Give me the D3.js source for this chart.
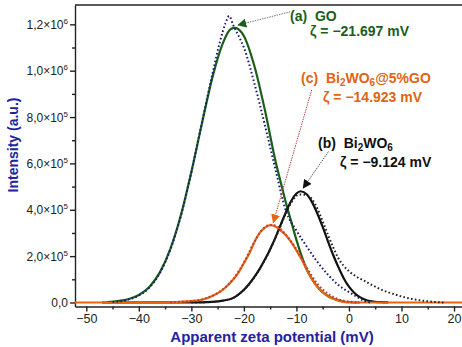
<!DOCTYPE html>
<html>
<head>
<meta charset="utf-8">
<script src="https://cdn.jsdelivr.net/npm/d3@7"></script>
<style>
  body { margin: 0; background: #fff; }
  text { font-family: Arial, "Liberation Sans", sans-serif; white-space: pre; }
</style>
</head>
<body>
<div id="zetaViz"></div>
<script>
// Curves: [zeta potential (mV), intensity (a.u.)]
var goFit = [[-46, 2000], [-44, 6000], [-42, 14000], [-40, 32000], [-38, 67000], [-36, 130000],
  [-34, 231000], [-32, 376000], [-30, 563000], [-28, 771000], [-26, 970000], [-24, 1119000],
  [-22.5, 1180000], [-21.7, 1185000], [-20, 1150000], [-18, 1020000], [-16, 830000],
  [-14, 612000], [-13, 520000], [-12, 430000], [-11, 350000], [-10, 270000], [-9, 200000],
  [-8, 140000], [-7, 100000], [-6, 68000], [-5, 44000], [-4, 28000], [-3, 17000],
  [-2, 9000], [-1, 4000], [0, 1000], [2, 0]];
var goRaw = [[-45, 2000], [-42, 13000], [-40, 30000], [-38, 64000], [-36, 127000], [-34, 228000],
  [-32, 373000], [-30, 562000], [-28, 775000], [-26, 985000], [-24.5, 1130000], [-23.5, 1205000],
  [-22.8, 1236000], [-22, 1195000], [-21, 1150000], [-20, 1100000], [-18, 945000], [-16, 765000],
  [-14, 575000], [-12, 395000], [-10, 310000], [-8, 240000], [-6, 175000], [-4, 120000],
  [-2, 75000], [0, 45000], [1.5, 25000], [3, 6000], [4, 0]];
var bwFit = [[-47, 0], [-30, 500], [-26, 3000], [-24, 8000], [-22, 20000], [-21, 35000],
  [-20, 55000], [-19, 80000], [-18, 110000], [-17, 145000], [-16, 185000], [-15, 230000],
  [-14, 280000], [-13, 335000], [-12, 390000], [-11, 438000], [-10, 470000], [-9.2, 480000],
  [-8, 466000], [-7, 432000], [-6, 383000], [-5, 326000], [-4, 264000], [-3, 205000],
  [-2, 152000], [-1, 105000], [0, 68000], [1, 42000], [2, 24000], [3, 13000], [4, 6000],
  [5, 3000], [6, 1500], [7.5, 500]];
var bwRaw = [[-30, 0], [-26, 3000], [-24, 8000], [-22, 20000], [-20, 54000], [-18, 108000],
  [-16, 184000], [-14, 278000], [-13, 332000], [-11, 430000], [-9.5, 466000], [-8.5, 465000],
  [-7, 445000], [-6, 405000], [-5, 350000], [-4, 292000], [-3, 238000], [-2, 190000],
  [-1, 158000], [0, 135000], [1, 118000], [2, 104000], [3, 93000], [4, 80000], [5, 68000],
  [6, 57000], [8, 40000], [10, 26000], [12, 15000], [14, 8000], [16, 3000], [18, 0]];
var bgFit = [[-52.2, 0], [-36, 0], [-32, 3000], [-30, 6000], [-28, 12000], [-26, 28000],
  [-24, 55000], [-22, 100000], [-21, 130000], [-20, 170000], [-19, 210000], [-18, 260000],
  [-17, 300000], [-16, 323000], [-15, 334000], [-14, 328000], [-13, 310000], [-12, 290000],
  [-11, 260000], [-10, 225000], [-9, 185000], [-8, 140000], [-7, 100000], [-6, 68000],
  [-5, 44000], [-4, 27000], [-3, 16000], [-2, 8000], [-1, 3000], [0, 1000], [2, 0],
  [21.9, 0]];
var bgRaw = [[-34, 0], [-32, 3000], [-30, 6000], [-28, 13000], [-26, 29000], [-24, 57000],
  [-22, 102000], [-20, 172000], [-18, 262000], [-16, 325000], [-15, 335000], [-14, 332000],
  [-12, 292000], [-10, 230000], [-8, 150000], [-6, 80000], [-4, 38000], [-2, 14000],
  [0, 4000], [2, 0]];

// Ticks
var xTicks = [-50, -40, -30, -20, -10, 0, 10, 20];
var xMinor = [-45, -35, -25, -15, -5, 5, 15];
var yTicks = [0, 200000, 400000, 600000, 800000, 1000000, 1200000];
var yMinor = [100000, 300000, 500000, 700000, 900000, 1100000];
var yTickMantissa = ["0,0", "2,0", "4,0", "6,0", "8,0", "1,0", "1,2"];
var yTickExp = ["", "5", "5", "5", "5", "6", "6"];

var margin = {top: 5, right: 0, bottom: 40, left: 75};
var width = 389;
var height = 301.5;

var svg = d3.select("#zetaViz")
  .append("svg")
    .attr("width", 462)
    .attr("height", 347)
  .append("g")
    .attr("transform", "translate(" + margin.left + "," + margin.top + ")");

var x = d3.scaleLinear().domain([-52.15, 21.9]).range([0, width]);
var y = d3.scaleLinear().domain([-17300, 1283400]).range([height, 0]);

// arrowheads
var defs = svg.append("defs");
[["arrGreen", "#1b5e1b"], ["arrOrange", "#e8650f"], ["arrBlack", "#111"]].forEach(function(m) {
  defs.append("marker")
      .attr("id", m[0])
      .attr("viewBox", "0 0 10 10")
      .attr("refX", 9).attr("refY", 5)
      .attr("markerWidth", 9).attr("markerHeight", 9)
      .attr("markerUnits", "userSpaceOnUse")
      .attr("orient", "auto")
    .append("path")
      .attr("d", "M0,0 L10,5 L0,10 Z")
      .attr("fill", m[1]);
});

// X axis
var xAxis = svg.append("g")
  .attr("transform", "translate(0," + height + ")")
  .call(d3.axisBottom(x).tickValues(xTicks).tickSize(5).tickSizeOuter(0).tickPadding(3)
    .tickFormat(function(d) { return d < 0 ? "\u2212" + Math.abs(d) : d; }));
svg.append("g")
  .attr("transform", "translate(0," + height + ")")
  .call(d3.axisBottom(x).tickValues(xMinor).tickSize(3).tickFormat(""))
  .select(".domain").remove();

// Y axis
var yAxis = svg.append("g")
  .call(d3.axisLeft(y).tickValues(yTicks).tickSize(5).tickSizeOuter(0).tickFormat(""));
svg.append("g")
  .call(d3.axisLeft(y).tickValues(yMinor).tickSize(3).tickFormat(""))
  .select(".domain").remove();

yAxis.selectAll(".tick").each(function(d, i) {
  var t = d3.select(this).append("text")
    .attr("x", -7)
    .attr("dy", "0.35em")
    .attr("fill", "#222")
    .attr("font-size", 12)
    .attr("text-anchor", "end");
  t.append("tspan").text(yTickMantissa[i] + (yTickExp[i] ? "\u00d710" : ""));
  if (yTickExp[i]) {
    t.append("tspan").attr("dy", -5).attr("font-size", 8).text(yTickExp[i]);
  }
});

svg.selectAll(".domain, .tick line").attr("stroke", "#222").attr("stroke-width", 1.4);
xAxis.selectAll("text").attr("font-size", 12.5).attr("fill", "#222");

// top frame
svg.append("line")
  .attr("x1", 0).attr("x2", width + 2)
  .attr("y1", 0).attr("y2", 0)
  .attr("stroke", "#222").attr("stroke-width", 1.4);

// Lines
var line = d3.line()
  .x(function(d) { return x(d[0]); })
  .y(function(d) { return y(d[1]); })
  .curve(d3.curveMonotoneX);

function addCurve(data, color, dotted) {
  svg.append("path")
    .datum(data)
    .attr("fill", "none")
    .attr("stroke", color)
    .attr("stroke-width", dotted ? 2 : 2.2)
    .attr("stroke-dasharray", dotted ? "1.6,2.3" : null)
    .attr("d", line);
}

addCurve(goFit, "#1b5e1b", false);
addCurve(bwFit, "#111", false);
addCurve(bgFit, "#e8650f", false);
addCurve(goRaw, "#1c1c78", true);
addCurve(bwRaw, "#222", true);
addCurve(bgRaw, "#b8383a", true);

// Annotation arrows (data coordinates)
function addArrow(from, to, color, marker) {
  svg.append("line")
    .attr("x1", x(from[0])).attr("y1", y(from[1]))
    .attr("x2", x(to[0])).attr("y2", y(to[1]))
    .attr("stroke", color)
    .attr("stroke-width", 1)
    .attr("stroke-dasharray", "1.5,1")
    .attr("marker-end", "url(#" + marker + ")");
}
addArrow([-11.2, 1254000], [-21.1, 1197000], "#777", "arrGreen");
addArrow([-7.1, 917000], [-14.4, 345000], "#c04040", "arrOrange");
addArrow([-3.9, 651000], [-8.7, 494000], "#555", "arrBlack");

// Annotation text
var ann = svg.append("g")
  .attr("transform", "translate(" + (-margin.left) + "," + (-margin.top) + ")")
  .attr("font-weight", "bold")
  .attr("font-size", 14);

function label(px, py, color) {
  return ann.append("text")
    .attr("x", px).attr("y", py)
    .attr("xml:space", "preserve")
    .attr("fill", color);
}

label(290, 21, "#1b5e1b").text("(a)  GO");
label(310, 36, "#1b5e1b").text("\u03b6 = \u221221.697 mV");

var c = label(301, 83, "#e06412");
c.append("tspan").text("(c)  Bi");
c.append("tspan").attr("dy", 3).attr("font-size", 10).text("2");
c.append("tspan").attr("dy", -3).text("WO");
c.append("tspan").attr("dy", 3).attr("font-size", 10).text("6");
c.append("tspan").attr("dy", -3).text("@5%GO");
label(323, 102, "#e06412").text("\u03b6 = \u221214.923 mV");

var b = label(318, 148, "#111");
b.append("tspan").text("(b)  Bi");
b.append("tspan").attr("dy", 3).attr("font-size", 10).text("2");
b.append("tspan").attr("dy", -3).text("WO");
b.append("tspan").attr("dy", 3).attr("font-size", 10).text("6");
label(340, 167, "#111").text("\u03b6 = \u22129.124 mV");

// Axis titles
ann.append("text")
  .attr("x", 272).attr("y", 342)
  .attr("text-anchor", "middle")
  .attr("font-size", 15)
  .attr("fill", "#2222a0")
  .text("Apparent zeta potential (mV)");

ann.append("text")
  .attr("transform", "translate(18,145) rotate(-90)")
  .attr("text-anchor", "middle")
  .attr("font-size", 14)
  .attr("fill", "#2222a0")
  .text("Intensity (a.u.)");
</script>
</body>
</html>
